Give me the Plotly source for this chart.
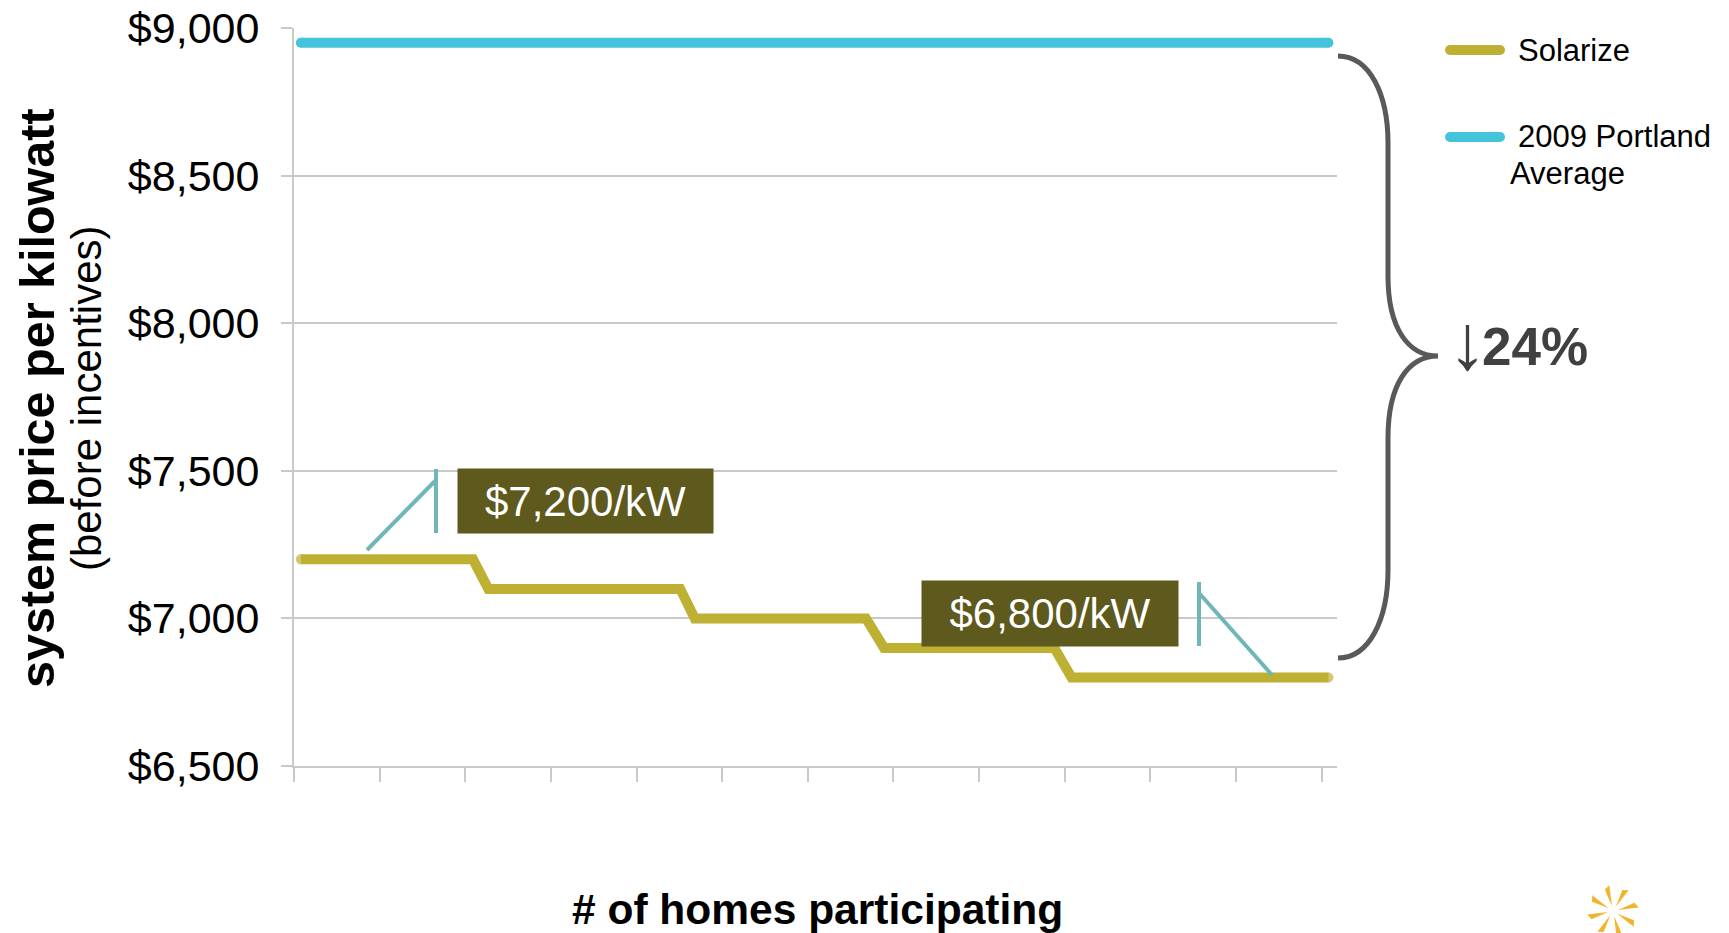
import math
import plotly.graph_objects as go

# ---------------- data ----------------
series_names = ["Solarize", "2009 Portland Average"]
solarize_x = [0.08, 2.09, 2.27, 4.51, 4.68, 6.68, 6.89, 8.88, 9.08, 12.08]
solarize_y = [7200, 7200, 7100, 7100, 7000, 7000, 6900, 6900, 6800, 6800]
portland_x = [0.08, 12.08]
portland_y = [8950, 8950]
y_ticks = [6500, 7000, 7500, 8000, 8500, 9000]
y_tick_labels = ["$6,500", "$7,000", "$7,500", "$8,000", "$8,500", "$9,000"]
x_ticks = list(range(13))
x_range = [0, 12.18]
y_range = [6500, 9000]
callout_labels = ["$7,200/kW", "$6,800/kW"]
reduction_label = "24%"

# ---------------- styles ----------------
SOLAR = "#BDB033"
PORT = "#44C4DB"
BOX = "#5E591D"
TEAL = "#6FB6B9"
BRACE = "#595959"
GRID = "#C9C9C9"
FONT = "Liberation Sans, Arial, sans-serif"

W, H = 1729, 933
L, R, T, B = 294, 1337, 28, 766


def px(x):
    return (x - L) / (R - L)


def py(y):
    return (B - y) / (B - T)


def path(cmds):
    out = []
    for c, pts in cmds:
        for i, (a, b) in enumerate(pts):
            if c == "C":
                if i == 0:
                    out.append("C")
                out.append(f"{px(a):.5f},{py(b):.5f}")
            else:
                out.append(f"{c}{px(a):.5f},{py(b):.5f}")
    return " ".join(out)


fig = go.Figure()

fig.add_trace(go.Scatter(
    x=portland_x, y=portland_y, mode="lines+markers", name=series_names[1],
    line=dict(color=PORT, width=10),
    marker=dict(size=10, color=PORT, line=dict(width=0)),
    showlegend=False, hoverinfo="skip"))

n = len(solarize_x)
fig.add_trace(go.Scatter(
    x=solarize_x, y=solarize_y, mode="lines+markers", name=series_names[0],
    line=dict(color=SOLAR, width=10),
    marker=dict(size=[10 if i in (0, n - 1) else 0 for i in range(n)], color=SOLAR,
                line=dict(width=0)),
    showlegend=False, hoverinfo="skip"))

shapes = []
# callout lines
for seg in [((436, 469), (436, 533)), ((436, 480), (367, 550)),
            ((1199, 582), (1199, 646)), ((1199, 593), (1272, 675))]:
    (x0, y0), (x1, y1) = seg
    shapes.append(dict(type="line", xref="paper", yref="paper",
                       x0=px(x0), y0=py(y0), x1=px(x1), y1=py(y1),
                       line=dict(color=TEAL, width=4)))

# brace
brace = path([
    ("M", [(1338, 56)]),
    ("C", [(1370, 56), (1388, 95), (1388, 143)]),
    ("L", [(1388, 276)]),
    ("C", [(1388, 328), (1408, 356), (1438, 356)]),
    ("C", [(1408, 356), (1388, 385), (1388, 438)]),
    ("L", [(1388, 570)]),
    ("C", [(1388, 618), (1370, 658), (1338, 658)]),
])
shapes.append(dict(type="path", xref="paper", yref="paper", path=brace,
                   line=dict(color=BRACE, width=5)))

# legend swatches
for yc, col in [(50, SOLAR), (137, PORT)]:
    shapes.append(dict(type="line", xref="paper", yref="paper",
                       x0=px(1450), x1=px(1500), y0=py(yc), y1=py(yc),
                       line=dict(color=col, width=10)))
    for xc in (1450, 1500):
        shapes.append(dict(type="circle", xref="paper", yref="paper",
                           x0=px(xc - 5), x1=px(xc + 5), y0=py(yc + 5), y1=py(yc - 5),
                           fillcolor=col, line=dict(width=0)))

# small pinwheel logo
cx, cy = 1613, 911
for k in range(8):
    th = math.radians(k * 45 + 12)
    r0, r1 = 5, 26
    p0 = (cx + r0 * math.cos(th), cy - r0 * math.sin(th))
    a1 = th - math.radians(4)
    a2 = th + math.radians(9)
    p1 = (cx + r1 * math.cos(a1), cy - r1 * math.sin(a1))
    p2 = (cx + (r1 - 3) * math.cos(a2), cy - (r1 - 3) * math.sin(a2))
    shapes.append(dict(type="path", xref="paper", yref="paper",
                       path=path([("M", [p0]), ("L", [p1, p2])]) + " Z",
                       fillcolor="#F0B52C", line=dict(width=0)))

annotations = []
# callout boxes
for (xc, yc, w, h), txt in zip([(585.5, 501, 255, 64), (1050, 613.5, 256, 65)], callout_labels):
    annotations.append(dict(xref="paper", yref="paper", x=px(xc), y=py(yc),
                            xanchor="center", yanchor="middle", text=txt,
                            showarrow=False, width=w, height=h, borderpad=0,
                            bgcolor=BOX, font=dict(family=FONT, size=42, color="white")))

# legend text
for txt, x, y in [("Solarize", 1516, 50), ("2009 Portland", 1516, 137), ("Average", 1508, 174)]:
    annotations.append(dict(xref="paper", yref="paper", x=px(x), y=py(y),
                            xanchor="left", yanchor="middle", text=txt, showarrow=False,
                            font=dict(family=FONT, size=31, color="black")))

# reduction
annotations.append(dict(xref="paper", yref="paper", x=px(1467), y=py(342),
                        xanchor="center", yanchor="middle", text="↓", showarrow=False,
                        font=dict(family=FONT, size=78, color="#404040")))
annotations.append(dict(xref="paper", yref="paper", x=px(1480), y=py(346.5),
                        xanchor="left", yanchor="middle", text="<b>" + reduction_label + "</b>",
                        showarrow=False, font=dict(family=FONT, size=53, color="#404040")))

# axis titles
annotations.append(dict(xref="paper", yref="paper", x=px(37), y=py(398),
                        xanchor="center", yanchor="middle", textangle=-90,
                        text="<b>system price per kilowatt</b>", showarrow=False,
                        font=dict(family=FONT, size=48.5, color="black")))
annotations.append(dict(xref="paper", yref="paper", x=px(87), y=py(398),
                        xanchor="center", yanchor="middle", textangle=-90,
                        text="(before incentives)", showarrow=False,
                        font=dict(family=FONT, size=42, color="black")))
annotations.append(dict(xref="paper", yref="paper", x=px(817), y=py(909),
                        xanchor="center", yanchor="middle",
                        text="<b># of homes participating</b>", showarrow=False,
                        font=dict(family=FONT, size=42.5, color="black")))

fig.update_layout(
    width=W, height=H,
    margin=dict(l=L, r=W - R, t=T, b=H - B, pad=0, autoexpand=False),
    paper_bgcolor="white", plot_bgcolor="white",
    font=dict(family=FONT, color="black"),
    showlegend=False,
    shapes=shapes, annotations=annotations,
    xaxis=dict(range=x_range, tickvals=x_ticks, showticklabels=False,
               ticks="outside", ticklen=14, tickwidth=2, tickcolor=GRID,
               showline=True, linecolor=GRID, linewidth=2, automargin=False,
               showgrid=False, zeroline=False, fixedrange=True),
    yaxis=dict(range=y_range, tickvals=y_ticks, ticktext=y_tick_labels,
               ticks="outside", ticklen=11, tickwidth=2, tickcolor=GRID,
               showline=True, linecolor=GRID, linewidth=2, automargin=False,
               showgrid=True, gridcolor=GRID, gridwidth=2, zeroline=False,
               tickfont=dict(family=FONT, size=43, color="black"),
               ticklabelstandoff=13, fixedrange=True),
)

fig.write_html("out.html", config={"displayModeBar": False},
               post_script="document.body.style.margin='0';")
